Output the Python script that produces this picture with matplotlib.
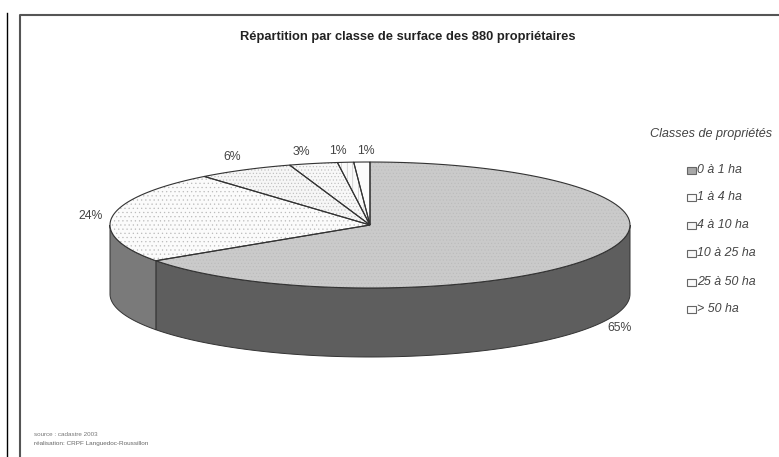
import numpy as np
import matplotlib
matplotlib.use('Agg')
import matplotlib.pyplot as plt
from matplotlib.patches import Polygon, Rectangle

plt.rcParams['font.family'] = ['Liberation Sans', 'DejaVu Sans']
plt.rcParams['hatch.linewidth'] = 0.4

titre = 'Répartition par classe de surface des 880 propriétaires'
titre_legende = 'Classes de propriétés'
classes = ['0 à 1 ha', '1 à 4 ha', '4 à 10 ha', '10 à 25 ha', '25 à 50 ha', '> 50 ha']
parts = [65.4, 23.6, 6, 3, 1, 1]
etiquettes = ['65%', '24%', '6%', '3%', '1%', '1%']

couleurs = ['#cacaca', '#fbfbfb', '#f6f6f6', '#f8f8f8', '#fafafa', '#fcfcfc']
couleurs_cote = ['#5e5e5e', '#7a7a7a', '#888888', '#888888', '#888888', '#888888']
hachures = ['.....', '....', '.....', '.....', '|||', '']
couleurs_leg = ['#a8a8a8', '#fbfbfb', '#f6f6f6', '#f8f8f8', '#fafafa', '#fcfcfc']

cx, cy = 370, 225     # centre de l'ellipse (pixels)
rx, ry = 260, 63
h = 69                # epaisseur

fig = plt.figure(figsize=(7.79, 4.57), dpi=100)
ax = fig.add_axes([0, 0, 1, 1])
ax.set_xlim(0, 779)
ax.set_ylim(457, 0)
ax.axis('off')

# cadre
ax.plot([7.5, 7.5], [13, 457], color='black', lw=1.0)
ax.plot([20, 20, 779], [457, 15, 15], color='#555555', lw=1.5)


def point(a):
    # angle en degres, sens horaire depuis le haut
    r = np.radians(a)
    return cx + rx*np.sin(r), cy - ry*np.cos(r)


# cote du camembert
debut = 0
for p, c in zip(parts, couleurs_cote):
    fin = debut + p*3.6
    a1, a2 = max(debut, 90), min(fin, 270)
    if a1 < a2:
        t = np.linspace(a1, a2, 100)
        x, y = point(t)
        xy = np.r_[np.c_[x, y], np.c_[x[::-1], y[::-1] + h]]
        ax.add_patch(Polygon(xy, closed=True, facecolor=c, edgecolor='#333333', lw=0.7, zorder=2))
    debut = fin

# dessus
debut = 0
for p, c, ha in zip(parts, couleurs, hachures):
    fin = debut + p*3.6
    t = np.linspace(debut, fin, 100)
    x, y = point(t)
    xy = np.r_[[[cx, cy]], np.c_[x, y]]
    ax.add_patch(Polygon(xy, closed=True, facecolor=c, edgecolor='#bbbbbb', hatch=ha, lw=0, zorder=3))
    ax.add_patch(Polygon(xy, closed=True, fill=False, edgecolor='#333333', lw=0.8, zorder=4))
    debut = fin

# pourcentages
pos_etiquettes = [(620, 328), (91, 216), (232, 157), (301, 152), (338, 151), (366, 151)]
for (x, y), e in zip(pos_etiquettes, etiquettes):
    ax.text(x, y, e, fontsize=8.8, color='#444444', ha='center', va='center')

ax.text(408, 37, titre, fontsize=9.25, fontweight='bold', color='#222222', ha='center', va='center')

# legende
ax.text(711.5, 134, titre_legende, fontsize=9.1, style='italic', color='#444444', ha='center', va='center')
y_leg = [170, 197, 225, 253, 282, 309]
for y, cl, c, ha in zip(y_leg, classes, couleurs_leg, hachures):
    ax.add_patch(Rectangle((687, y - 3), 9, 6.5, facecolor=c, edgecolor='#666666', lw=0.8))
    ax.text(697.5, y, cl, fontsize=8.9, style='italic', color='#444444', ha='left', va='center')

# source
ax.text(34, 435, 'source : cadastre 2003', fontsize=4.5, color='#777777', ha='left', va='center')
ax.text(34, 443, 'réalisation: CRPF Languedoc-Roussillon', fontsize=4.6, color='#666666', ha='left', va='center')

fig.savefig('out.png', dpi=100)
